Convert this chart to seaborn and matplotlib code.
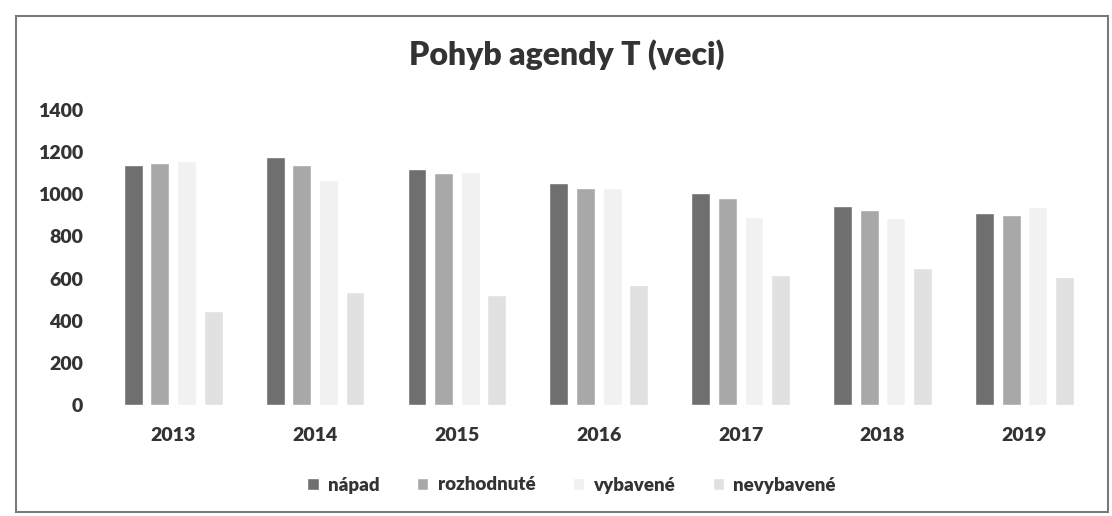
import matplotlib
matplotlib.use('Agg')
import matplotlib.pyplot as plt
import seaborn as sns
import pandas as pd
from matplotlib.patches import Rectangle

# hodnoty odčítané z grafu
roky = ['2013', '2014', '2015', '2016', '2017', '2018', '2019']
napad = [1140, 1177, 1120, 1054, 1006, 944, 911]
rozhodnute = [1148, 1139, 1101, 1030, 982, 925, 902]
vybavene = [1160, 1068, 1106, 1030, 892, 887, 940]
nevybavene = [446, 536, 522, 570, 617, 650, 608]

serie = ['nápad', 'rozhodnuté', 'vybavené', 'nevybavené']
farby = ['#6f6f6f', '#a8a8a8', '#f1f1f1', '#e1e1e1']

df = pd.DataFrame({'rok': roky, 'nápad': napad, 'rozhodnuté': rozhodnute,
                   'vybavené': vybavene, 'nevybavené': nevybavene})
df = df.melt(id_vars='rok', var_name='typ', value_name='pocet')

sns.set_theme(style='white')
plt.rcParams['font.family'] = ['Lato', 'DejaVu Sans']
plt.rcParams['font.weight'] = 'heavy'

fig = plt.figure(figsize=(11.12, 5.16), dpi=100)
ax = fig.add_axes([0.092, 0.215, 0.893, 0.572])

sns.barplot(data=df, x='rok', y='pocet', hue='typ', hue_order=serie,
            palette=farby, width=0.75, gap=0.29, saturation=1, ax=ax)

ax.set_ylim(0, 1400)
ax.set_xlim(-0.5, 6.5)
ax.set_yticks(range(0, 1401, 200))
ax.set_xlabel('')
ax.set_ylabel('')
for s in ax.spines.values():
    s.set_visible(False)
ax.tick_params(axis='y', length=0, pad=14, labelsize=14, labelcolor='#333333')
ax.tick_params(axis='x', length=0, pad=16, labelsize=14, labelcolor='#333333')
for t in ax.get_xticklabels() + ax.get_yticklabels():
    t.set_fontweight('heavy')

ax.legend_.remove()
h, l = ax.get_legend_handles_labels()
fig.legend(h, l, loc='center', bbox_to_anchor=(0.514, 1 - 485 / 516), ncol=4,
           frameon=False, handlelength=0.6, handleheight=0.6, handletextpad=0.5,
           columnspacing=2.0, prop={'weight': 'heavy', 'size': 13.5}, labelcolor='#333333')

fig.text(0.51, 1 - 55 / 516, 'Pohyb agendy T (veci)', ha='center', va='center',
         fontsize=23, fontweight='heavy', color='#333333')

# ramček okolo grafu
fig.patches.append(Rectangle((16 / 1112, 4 / 516), 1092 / 1112, 496 / 516,
                             transform=fig.transFigure, fill=False,
                             edgecolor='#7a7a7a', linewidth=1.5))

fig.savefig('out.png', dpi=100)
